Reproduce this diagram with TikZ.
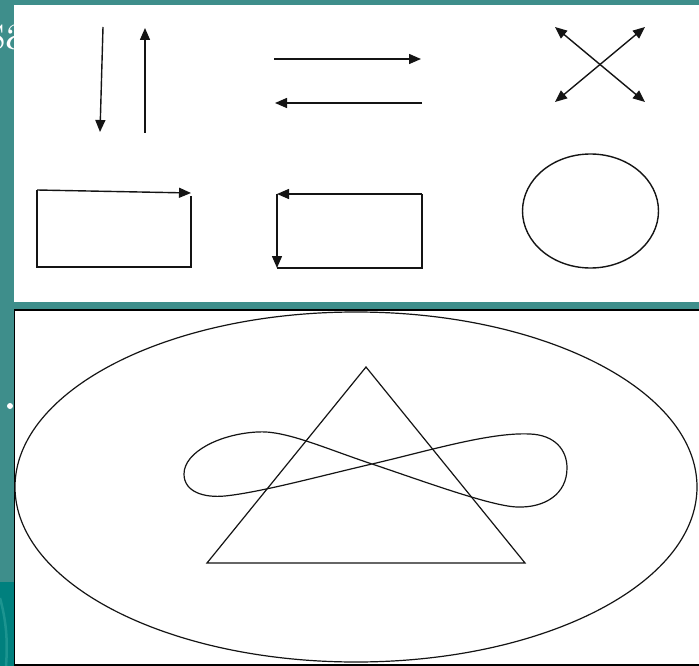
\documentclass[tikz,border=0pt]{standalone}
\usetikzlibrary{arrows.meta}
\definecolor{tealbg}{RGB}{62,142,139}
\definecolor{tealdark}{RGB}{0,128,126}
\definecolor{teallight}{RGB}{28,148,144}
\definecolor{ink}{RGB}{20,20,20}
\begin{document}
\begin{tikzpicture}[x=1pt,y=-1pt,
  line/.style={draw=ink, line width=1.4pt},
  arr/.style={line, -{Triangle[length=12pt,width=10pt]}},
  darr/.style={line, {Triangle[length=12pt,width=10pt]}-{Triangle[length=12pt,width=10pt]}},
  thin/.style={draw=ink, line width=1.2pt}]
\useasboundingbox (0,0) rectangle (699,666);
\clip (0,0) rectangle (699,666);
% background
\fill[tealbg] (0,0) rectangle (699,666);
\fill[tealdark] (0,582) rectangle (14,666);
\draw[teallight, line width=2.5pt] (0,598) .. controls (6,620) and (8,640) .. (6,666);
\node[anchor=base west, text=white, font=\fontsize{56}{60}\selectfont, inner sep=0pt] (sa) at (-15,50) {sa};
\node[circle, fill=white, inner sep=0pt, minimum size=6pt] (dot) at (10,406) {};
% panels
\fill[white] (14,5) rectangle (699,302);
\draw[black, line width=1.3pt, fill=white] (14.5,310) rectangle (720,665);
% --- top panel ---
\coordinate (d1) at (103,27); \coordinate (d2) at (100,132);
\coordinate (u1) at (145,133); \coordinate (u2) at (145,28);
\draw[arr] (d1) -- (d2);
\draw[arr] (u1) -- (u2);
\coordinate (r1) at (274,59); \coordinate (r2) at (421,59);
\coordinate (l1) at (422,103); \coordinate (l2) at (275,103);
\draw[arr] (r1) -- (r2);
\draw[arr] (l1) -- (l2);
\coordinate (xa) at (555,27); \coordinate (xb) at (645,102);
\coordinate (xc) at (645,27); \coordinate (xd) at (555,102);
\draw[darr] (xa) -- (xb);
\draw[darr] (xc) -- (xd);
% rectangle 1
\coordinate (a1) at (37,190); \coordinate (a2) at (191,193);
\coordinate (a3) at (191,267); \coordinate (a4) at (37,267);
\draw[line] (a1) -- (a4) -- (a3) -- (191,196);
\draw[arr] (a1) -- (a2);
% rectangle 2
\coordinate (b1) at (422,194); \coordinate (b2) at (277,194);
\coordinate (b3) at (277,268); \coordinate (b4) at (422,268);
\draw[line] (b3) -- (b4) -- (b1);
\draw[arr] (b1) -- (b2);
\draw[arr] (b2) -- (b3);
% circle
\draw[line] (590.5,211) ellipse [x radius=68, y radius=57];
% --- bottom panel ---
\draw[thin] (356,487) ellipse [x radius=341, y radius=175];
\coordinate (t1) at (366,367); \coordinate (t2) at (207,563); \coordinate (t3) at (525,563);
\draw[thin] (t1) -- (t2) -- (t3) -- cycle;
\coordinate (c) at (372,464);
\draw[thin] (c) .. controls (428,451) and (490,432) .. (530,434)
  .. controls (555,435) and (567,450) .. (567,468)
  .. controls (567,494) and (545,508) .. (517,507)
  .. controls (490,506) and (420,480) .. (c)
  .. controls (324,448) and (285,430) .. (257,432)
  .. controls (220,434) and (184,452) .. (184,474)
  .. controls (184,492) and (204,498) .. (225,496)
  .. controls (262,492) and (316,477) .. (c);
\end{tikzpicture}
\end{document}
